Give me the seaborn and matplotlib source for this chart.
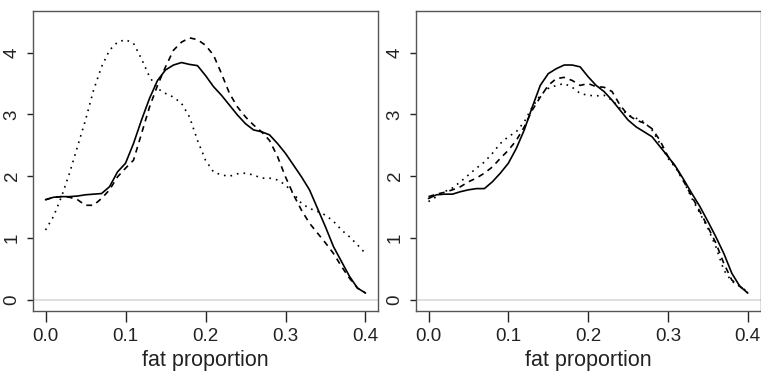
import seaborn as sns
import matplotlib.pyplot as plt
import pandas as pd

# grid of fat proportion
fat = [i / 100 for i in range(41)]

# left panel
left_solid = [1.62, 1.66, 1.67, 1.67, 1.68, 1.70, 1.71, 1.72, 1.83, 2.07,
              2.21, 2.53, 2.91, 3.26, 3.55, 3.72, 3.80, 3.84, 3.81, 3.79,
              3.63, 3.45, 3.31, 3.15, 2.99, 2.85, 2.75, 2.72, 2.67, 2.53,
              2.37, 2.18, 1.99, 1.78, 1.48, 1.18, 0.86, 0.62, 0.38, 0.19, 0.11]
left_dashed = [1.62, 1.66, 1.67, 1.66, 1.62, 1.53, 1.53, 1.64, 1.78, 1.99,
               2.13, 2.26, 2.69, 3.12, 3.47, 3.77, 4.04, 4.17, 4.24, 4.21,
               4.12, 3.96, 3.66, 3.34, 3.12, 2.96, 2.83, 2.72, 2.58, 2.32,
               1.99, 1.70, 1.45, 1.24, 1.08, 0.92, 0.75, 0.54, 0.35, 0.19, 0.11]
left_dotted = [1.13, 1.35, 1.67, 2.05, 2.48, 2.91, 3.39, 3.77, 4.04, 4.17,
               4.21, 4.15, 3.90, 3.61, 3.42, 3.34, 3.28, 3.18, 2.96, 2.58,
               2.26, 2.07, 2.02, 2.00, 2.04, 2.05, 2.02, 1.97, 1.97, 1.94,
               1.86, 1.72, 1.56, 1.48, 1.43, 1.37, 1.27, 1.13, 1.02, 0.89, 0.75]

# right panel
right_solid = [1.64, 1.70, 1.71, 1.71, 1.75, 1.78, 1.80, 1.80, 1.91, 2.05,
               2.21, 2.45, 2.75, 3.12, 3.47, 3.66, 3.74, 3.80, 3.80, 3.77,
               3.61, 3.47, 3.37, 3.23, 3.07, 2.91, 2.80, 2.72, 2.64, 2.48,
               2.32, 2.15, 1.94, 1.72, 1.51, 1.27, 1.02, 0.75, 0.43, 0.22, 0.11]
right_dashed = [1.67, 1.71, 1.74, 1.78, 1.83, 1.91, 1.97, 2.05, 2.15, 2.29,
                2.42, 2.58, 2.80, 3.07, 3.28, 3.47, 3.58, 3.60, 3.55, 3.47,
                3.50, 3.45, 3.44, 3.37, 3.15, 2.99, 2.91, 2.86, 2.77, 2.58,
                2.32, 2.15, 1.91, 1.67, 1.43, 1.18, 0.92, 0.59, 0.32, 0.22, 0.11]
right_dotted = [1.59, 1.67, 1.75, 1.81, 1.91, 2.02, 2.13, 2.23, 2.37, 2.53,
                2.64, 2.72, 2.88, 3.12, 3.31, 3.42, 3.47, 3.50, 3.44, 3.34,
                3.31, 3.30, 3.31, 3.23, 3.10, 2.99, 2.94, 2.88, 2.75, 2.53,
                2.29, 2.13, 1.91, 1.64, 1.40, 1.16, 0.86, 0.48, 0.30, 0.22, 0.13]

x_ticks = [0.0, 0.1, 0.2, 0.3, 0.4]
x_labels = ['0.0', '0.1', '0.2', '0.3', '0.4']
y_ticks = [0, 1, 2, 3, 4]

panels = {
    'left': {'solid': left_solid, 'dashed': left_dashed, 'dotted': left_dotted},
    'right': {'solid': right_solid, 'dashed': right_dashed, 'dotted': right_dotted},
}

rows = []
for panel, curves in panels.items():
    for name, vals in curves.items():
        for xv, yv in zip(fat, vals):
            rows.append({'panel': panel, 'curve': name, 'fat': xv, 'density': yv})
df = pd.DataFrame(rows)

sns.set_style("white")
plt.rcParams['font.family'] = ['Liberation Sans', 'DejaVu Sans']

fig = plt.figure(figsize=(7.61, 3.76), dpi=100)
ax_l = fig.add_axes([0.043, 0.173, 0.4541, 0.7987])
ax_r = fig.add_axes([0.5463, 0.173, 0.4531, 0.7987])

dash_map = {'solid': '', 'dashed': (3.5, 3), 'dotted': (1, 3)}

for ax, panel in [(ax_l, 'left'), (ax_r, 'right')]:
    ax.axhline(0, color='#dddddd', lw=1.3, zorder=0)
    sns.lineplot(data=df[df.panel == panel], x='fat', y='density',
                 style='curve', dashes=dash_map,
                 style_order=['solid', 'dashed', 'dotted'],
                 color='black', lw=1.2, legend=False, sort=False,
                 estimator=None, ax=ax)
    ax.set_xlim(-0.016, 0.416)
    ax.set_ylim(-0.18, 4.68)
    ax.set_xticks(x_ticks)
    ax.set_xticklabels(x_labels)
    ax.set_yticks(y_ticks)
    ax.set_yticklabels([str(t) for t in y_ticks], rotation=90, va='center')
    ax.tick_params(axis='x', length=7.7, width=1, color='#222222',
                   labelsize=13.5, pad=4.5, bottom=True, labelcolor='#222222')
    ax.tick_params(axis='y', length=4.3, width=1, color='#222222',
                   labelsize=13.5, pad=4.5, left=True, labelcolor='#222222')
    for s in ax.spines.values():
        s.set_color('#555555')
        s.set_linewidth(1)
    ax.set_xlabel('fat proportion', fontsize=15.5, labelpad=3.5,
                  color='#222222')
    ax.set_ylabel('')

fig.savefig('out.png', dpi=100)
